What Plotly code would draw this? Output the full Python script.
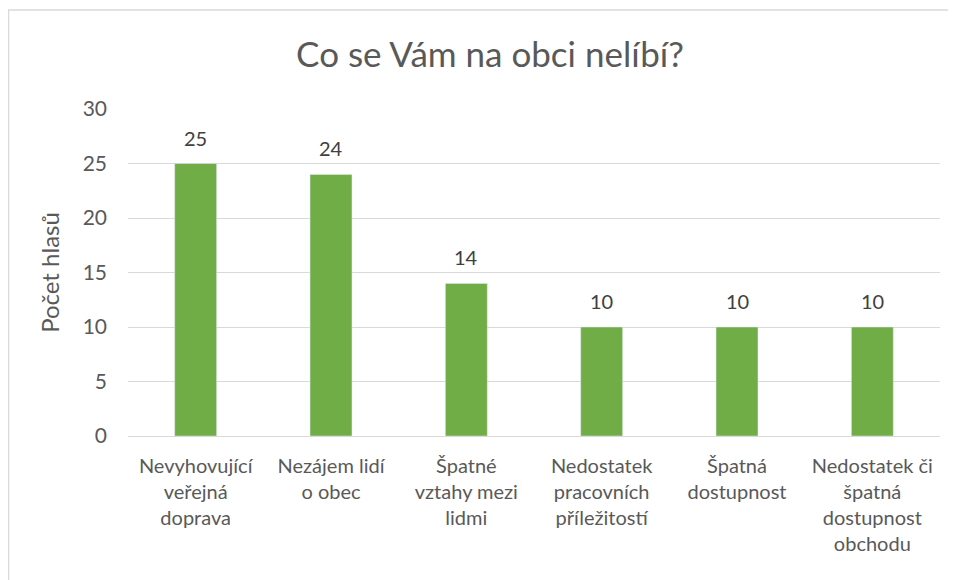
import plotly.graph_objects as go

categories = [
    "Nevyhovující<br>veřejná<br>doprava",
    "Nezájem lidí<br>o obec",
    "Špatné<br>vztahy mezi<br>lidmi",
    "Nedostatek<br>pracovních<br>příležitostí",
    "Špatná<br>dostupnost",
    "Nedostatek či<br>špatná<br>dostupnost<br>obchodu",
]
values = [25, 24, 14, 10, 10, 10]
y_ticks = [0, 5, 10, 15, 20, 25, 30]

FONT = "Lato, 'Open Sans', sans-serif"
TXT = "#595959"

fig = go.Figure(go.Bar(
    x=categories, y=values,
    marker_color="#70AD47",
    cliponaxis=False,
))

for c, v in zip(categories, values):
    fig.add_annotation(x=c, y=v, text=str(v), showarrow=False,
                       xanchor="center", yanchor="bottom", yshift=12,
                       font=dict(size=20, color="#404040", family=FONT))

# page has an 8px body margin; figure is sized to fit the 956x580 window
W, H = 948, 572
L, R, T, B = 120, 16, 101, 144
pw, ph = W - L - R, H - T - B

fig.update_layout(
    width=W, height=H,
    margin=dict(l=L, r=R, t=T, b=B),
    plot_bgcolor="white", paper_bgcolor="white",
    bargap=0.69,
    showlegend=False,
    font=dict(family=FONT, color=TXT),
    title=dict(text="Co se Vám na obci nelíbí?", x=482 / W, xanchor="center",
               xref="container",
               y=1 - 47 / H, yanchor="middle",
               font=dict(size=35, color=TXT, family=FONT)),
    xaxis=dict(showgrid=False, showline=True, linecolor="#D9D9D9", linewidth=1,
               tickfont=dict(size=20, color=TXT), ticks="", ticklen=0,
               ticklabelstandoff=12),
    yaxis=dict(range=[0, 30], tickvals=y_ticks, showgrid=True,
               gridcolor="#D9D9D9", gridwidth=1, zeroline=False, showline=False,
               tickfont=dict(size=21, color=TXT), ticks="",
               ticklabelstandoff=20,
               title=dict(text="Počet hlasů", font=dict(size=24, color=TXT), standoff=16)),
)

fig.add_shape(type="rect", xref="paper", yref="paper",
              x0=(0.5 - L) / pw, x1=(W + 20 - L) / pw,
              y0=-(H + 20 - T - ph) / ph, y1=(T + ph - 2) / ph,
              line=dict(color="#D9D9D9", width=1.5), fillcolor="rgba(0,0,0,0)", layer="below")

fig.write_html("out.html")
